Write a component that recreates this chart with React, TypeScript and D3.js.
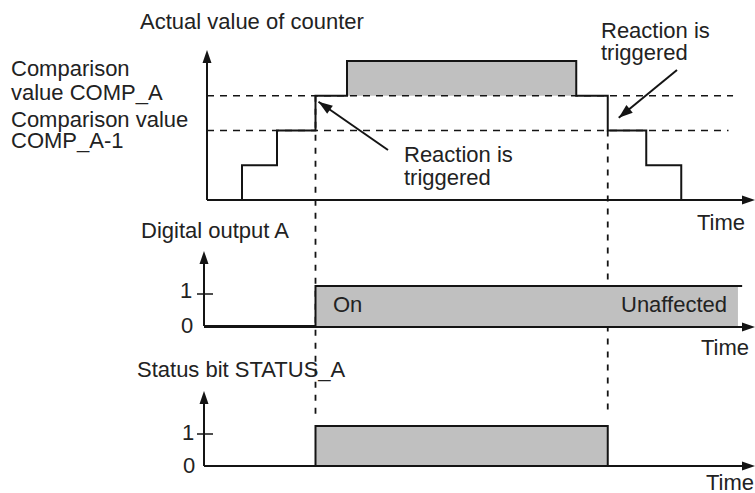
import React, { useEffect } from 'react';
import * as d3 from 'd3';

// counter steps: time unit -> counter value (3 = COMP_A, 2 = COMP_A-1)
const counterT = [0, 1, 2, 3.1, 4, 10.55, 11.45, 12.55, 13.55, 15.5];
const counterV = [0, 1, 2, 3, 4, 3, 2, 1, 0, 0];
const compLevels = [3, 2];
const compEnds = [15.03, 14.9];
const triggerT = [3.1, 11.45];

// digital output A and status bit
const outputT = [0, 3.1, 15.29];
const outputV = [0, 1.25, 1.25];
const statusT = [0, 3.1, 11.45, 15.5];
const statusV = [0, 1.25, 0, 0];
const binTicks = [0, 1];

const W = 755, H = 493;
const font = '"Liberation Sans", Arial, sans-serif';
const ink = '#141414';
const grey = '#c0c0c0';
const FS = 22;

export default function App() {
  useEffect(() => {
    document.body.style.margin = '0';
  }, []);

  const x = d3.scaleLinear().domain([0, 15.6]).range([207, 753]);
  const y = d3.scaleLinear().domain([0, 4]).range([200, 61]);
  const yOut = d3.scaleLinear().domain([0, 1]).range([326, 294]);
  const yStat = d3.scaleLinear().domain([0, 1]).range([466, 434]);
  const lowAxis = x(0) - 3;

  const counter = counterT.map((t, i) => ({ t, v: counterV[i] }));
  const stepLine = d3.line<{ t: number; v: number }>()
    .x(d => x(d.t)).y(d => y(d.v)).curve(d3.curveStepAfter);

  // grey area above COMP_A
  const over = counter.filter((d, i) => d.v > 3 || (i > 0 && counter[i - 1].v > 3));
  const overArea = d3.area<{ t: number; v: number }>()
    .x(d => x(d.t)).y0(y(3)).y1(d => y(d.v)).curve(d3.curveStepAfter);

  const outData = outputT.map((t, i) => ({ t, v: outputV[i] }));
  const statData = statusT.map((t, i) => ({ t, v: statusV[i] }));

  const arrowHead = (tx: number, ty: number, fx: number, fy: number, len = 13, w = 5) => {
    const a = Math.atan2(ty - fy, tx - fx);
    const bx = tx - len * Math.cos(a), by = ty - len * Math.sin(a);
    const px = -Math.sin(a) * w, py = Math.cos(a) * w;
    return `M${tx},${ty}L${bx + px},${by + py}L${bx - px},${by - py}Z`;
  };

  const axisY = (ax: number, y0: number, tip: number) => (
    <g>
      <line x1={ax} x2={ax} y1={y0} y2={tip + 8} stroke={ink} strokeWidth={2} />
      <path d={arrowHead(ax, tip, ax, y0, 13, 4.5)} fill={ink} />
    </g>
  );
  const axisX = (ax: number, y0: number, tip: number) => (
    <g>
      <line x1={ax} x2={tip - 8} y1={y0} y2={y0} stroke={ink} strokeWidth={2} />
      <path d={arrowHead(tip, y0, ax, y0, 13, 4.5)} fill={ink} />
    </g>
  );

  const label = (txt: string, lx: number, ly: number, size = FS) => (
    <text x={lx} y={ly} fontSize={size} fill="#222" fontFamily={font}>{txt}</text>
  );

  const sigLine = (ys: d3.ScaleLinear<number, number>, data: { t: number; v: number }[]) =>
    d3.line<{ t: number; v: number }>()
      .x((d, i) => (i === 0 ? lowAxis : x(d.t)))
      .y(d => ys(d.v))
      .curve(d3.curveStepAfter)(data) || '';

  return (
    <svg width={W} height={H} style={{ display: 'block', background: '#fff' }}>
      {/* ---- counter panel ---- */}
      <path d={overArea(over) || ''} fill={grey} />
      {compLevels.map((c, i) => (
        <line key={c} x1={x(0)} x2={x(compEnds[i])} y1={y(c)} y2={y(c)}
          stroke={ink} strokeWidth={1.5} strokeDasharray="7,6" />
      ))}
      {triggerT.map((t, i) => (
        <line key={t} x1={x(t)} x2={x(t)} y1={y(compLevels[i])} y2={416}
          stroke={ink} strokeWidth={1.8} strokeDasharray="6,7" />
      ))}
      <path d={stepLine(counter) || ''} fill="none" stroke={ink} strokeWidth={2} />
      {axisY(x(0), y(0), 50)}
      {axisX(x(0), y(0), 755)}

      {label('Actual value of counter', 140, 29)}
      {label('Comparison', 11, 76)}
      {label('value COMP_A', 11, 100)}
      {label('Comparison value', 11, 127)}
      {label('COMP_A-1', 11, 148)}
      {label('Time', 697, 230)}

      {/* reaction annotations */}
      <line x1={388} y1={150} x2={x(triggerT[0]) + 3} y2={y(3) + 6} stroke={ink} strokeWidth={2} />
      <path d={arrowHead(x(triggerT[0]) + 3, y(3) + 6, 388, 150, 14, 5)} fill={ink} />
      {label('Reaction is', 404, 162)}
      {label('triggered', 404, 185)}

      <line x1={677} y1={70} x2={x(triggerT[1]) + 11} y2={y(3) + 22} stroke={ink} strokeWidth={2} />
      <path d={arrowHead(x(triggerT[1]) + 11, y(3) + 22, 677, 70, 14, 5)} fill={ink} />
      {label('Reaction is', 601, 38)}
      {label('triggered', 601, 60)}

      {/* ---- digital output A ---- */}
      {label('Digital output A', 141, 238)}
      <rect x={x(outputT[1])} y={yOut(outputV[1])} width={x(15.17) - x(outputT[1])}
        height={yOut(0) - yOut(outputV[1])} fill={grey} />
      <path d={sigLine(yOut, outData)} fill="none" stroke={ink} strokeWidth={2} />
      {axisY(lowAxis, yOut(0), 251)}
      {axisX(lowAxis, yOut(0) + 1, 755)}
      <line x1={lowAxis - 7} x2={lowAxis + 9} y1={yOut(1)} y2={yOut(1)} stroke={ink} strokeWidth={1.5} />
      {binTicks.map(b => (
        <text key={b} x={b ? 180 : 181} y={b ? 298 : 333} fontSize={FS} fill="#222" fontFamily={font}>{b}</text>
      ))}
      {label('On', 333, 312)}
      {label('Unaffected', 621, 312)}
      {label('Time', 701, 355)}

      {/* ---- status bit ---- */}
      {label('Status bit STATUS_A', 137, 377)}
      <rect x={x(statusT[1])} y={yStat(statusV[1])} width={x(statusT[2]) - x(statusT[1])}
        height={yStat(0) - yStat(statusV[1])} fill={grey} />
      <path d={sigLine(yStat, statData)} fill="none" stroke={ink} strokeWidth={2} />
      {axisY(lowAxis, yStat(0), 391)}
      {axisX(lowAxis, yStat(0), 755)}
      <line x1={lowAxis - 7} x2={lowAxis + 9} y1={yStat(1)} y2={yStat(1)} stroke={ink} strokeWidth={1.5} />
      {binTicks.map(b => (
        <text key={b} x={b ? 182 : 183} y={b ? 440 : 473} fontSize={FS} fill="#222" fontFamily={font}>{b}</text>
      ))}
      {label('Time', 706, 490)}
    </svg>
  );
}
